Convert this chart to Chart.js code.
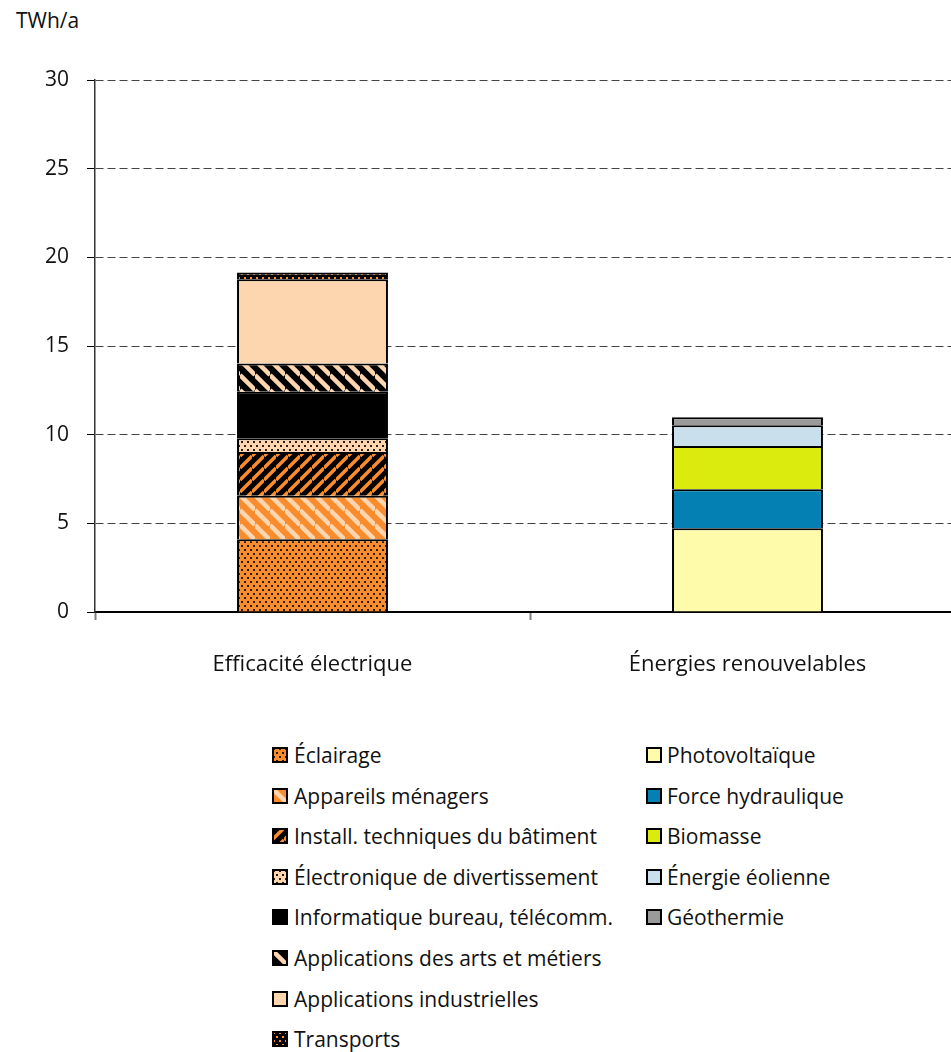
<!DOCTYPE html>
<html>
<head>
<meta charset="utf-8">
<script src="https://cdn.jsdelivr.net/npm/chart.js@4.4.1/dist/chart.umd.min.js"></script>
<style>
  html, body { margin: 0; padding: 0; background: #fff; overflow: hidden; }
  #wrap { position: absolute; left: 0; top: 0; width: 951px; height: 1052px; overflow: hidden; font-family: "Open Sans", sans-serif; color: #111; }
  #unit { position: absolute; left: 16px; top: 6px; font-size: 21px; }
  #c { position: absolute; left: 0; top: 0; }
  .item { position: absolute; font-size: 21px; white-space: nowrap; line-height: 26px; }
  .item canvas { position: absolute; left: 0; top: 5px; }
  .item span { position: absolute; top: 0; }
</style>
</head>
<body>
<div id="wrap">
  <div id="unit">TWh/a</div>
  <canvas id="c" width="980" height="700"></canvas>
  <div id="legend"></div>
</div>
<script>
// ---- data ----
const categories = ["Efficacité électrique", "Énergies renouvelables"];

const effLabels = [
  "Éclairage",
  "Appareils ménagers",
  "Install. techniques du bâtiment",
  "Électronique de divertissement",
  "Informatique bureau, télécomm.",
  "Applications des arts et métiers",
  "Applications industrielles",
  "Transports"
];
const effValues = [4.1, 2.45, 2.47, 0.78, 2.62, 1.6, 4.75, 0.38];

const renLabels = ["Photovoltaïque", "Force hydraulique", "Biomasse", "Énergie éolienne", "Géothermie"];
const renValues = [4.72, 2.2, 2.44, 1.17, 0.45];

const yMax = 30;
const yStep = 5;

// ---- colours / patterns ----
const ORANGE = "#f98c2d";
const PEACH = "#fdd5ae";
const DARK = "#2b1d10";

function tile(w, h, draw) {
  const c = document.createElement("canvas");
  c.width = w; c.height = h;
  draw(c.getContext("2d"), w, h);
  return c;
}
function dots(bg, fg) {
  return tile(6, 8, (g) => {
    g.fillStyle = bg; g.fillRect(0, 0, 6, 8);
    g.fillStyle = fg;
    g.fillRect(1, 1, 2, 2);
    g.fillRect(4, 5, 2, 2);
  });
}
function stripes(bg, fg, p, lw, dir) {
  return tile(p, p, (g) => {
    g.fillStyle = bg; g.fillRect(0, 0, p, p);
    g.strokeStyle = fg; g.lineWidth = lw;
    for (let k = -1; k <= 2; k++) {
      g.beginPath();
      if (dir === "\\") { g.moveTo(0, k * p); g.lineTo(p, p + k * p); }
      else { g.moveTo(0, k * p); g.lineTo(p, k * p - p); }
      g.stroke();
    }
  });
}
function solid(color) {
  return tile(4, 4, (g) => { g.fillStyle = color; g.fillRect(0, 0, 4, 4); });
}

const effTiles = [
  dots(ORANGE, DARK),
  stripes(ORANGE, PEACH, 15, 4.5, "\\"),
  stripes("#000", ORANGE, 12, 3.5, "/"),
  dots(PEACH, DARK),
  solid("#000"),
  stripes("#000", PEACH, 15, 4.5, "\\"),
  solid(PEACH),
  dots("#000", ORANGE)
];
const renColors = ["#fefbaa", "#0480b2", "#dbeb0e", "#c9e0ec", "#9a9a9a"];

const ctx = document.getElementById("c").getContext("2d");
const pat = (t) => ctx.createPattern(t, "repeat");

// top edge of each segment carries the separator line
const barBorder = { top: 2, bottom: 0, left: 2, right: 2 };

const datasets = [];
effLabels.forEach((lab, i) => {
  datasets.push({
    label: lab,
    data: [effValues[i], null],
    backgroundColor: pat(effTiles[i]),
    borderColor: "#000",
    borderWidth: barBorder,
    borderSkipped: false,
    stack: "s"
  });
});
renLabels.forEach((lab, i) => {
  datasets.push({
    label: lab,
    data: [null, renValues[i]],
    backgroundColor: renColors[i],
    borderColor: "#000",
    borderWidth: barBorder,
    borderSkipped: false,
    stack: "s"
  });
});

const FONT = { family: "'Open Sans', sans-serif", size: 21 };

new Chart(ctx, {
  type: "bar",
  data: { labels: categories, datasets },
  options: {
    responsive: false,
    animation: false,
    layout: { padding: { top: 80, right: 15, left: 0, bottom: 0 } },
    categoryPercentage: 0.347,
    barPercentage: 1,
    plugins: { legend: { display: false }, tooltip: { enabled: false } },
    scales: {
      x: {
        stacked: true,
        offset: true,
        grid: { offset: true, drawOnChartArea: false, drawTicks: true, tickLength: 8, tickColor: "#808080", tickWidth: 2 },
        border: { color: "#000", width: 2 },
        ticks: { color: "#111", font: { family: FONT.family, size: 22 }, padding: 32, maxRotation: 0 },
        afterFit: (s) => { s.height = 88; }
      },
      y: {
        stacked: true,
        min: 0,
        max: yMax,
        ticks: { stepSize: yStep, color: "#111", font: FONT, padding: 18 },
        grid: {
          color: (c) => (c.tick && c.tick.value === 0 ? "rgba(0,0,0,0)" : "#444"),
          tickBorderDash: [],
          tickColor: "#000",
          tickLength: 8,
          lineWidth: 1
        },
        border: { color: "#333", width: 1.5, dash: [8, 4] },
        afterFit: (s) => { s.width = 95; }
      }
    }
  }
});

// ---- legend (two columns, built from the same arrays) ----
function swatch(fill) {
  const c = document.createElement("canvas");
  c.width = 16; c.height = 16;
  const g = c.getContext("2d");
  g.fillStyle = typeof fill === "string" ? fill : g.createPattern(fill, "repeat");
  g.fillRect(0, 0, 16, 16);
  g.strokeStyle = "#000"; g.lineWidth = 2;
  g.strokeRect(1, 1, 14, 14);
  return c;
}
const legend = document.getElementById("legend");
function addItem(x, y, fill, text, gap) {
  const d = document.createElement("div");
  d.className = "item";
  d.style.left = x + "px";
  d.style.top = (y - 13) + "px";
  d.appendChild(swatch(fill));
  const s = document.createElement("span");
  s.style.left = gap + "px";
  s.textContent = text;
  d.appendChild(s);
  legend.appendChild(d);
}
effLabels.forEach((lab, i) => addItem(272, 755 + i * 40.6, effTiles[i], lab, 22));
renLabels.forEach((lab, i) => addItem(646, 755 + i * 40.6, renColors[i], lab, 21));
</script>
</body>
</html>
